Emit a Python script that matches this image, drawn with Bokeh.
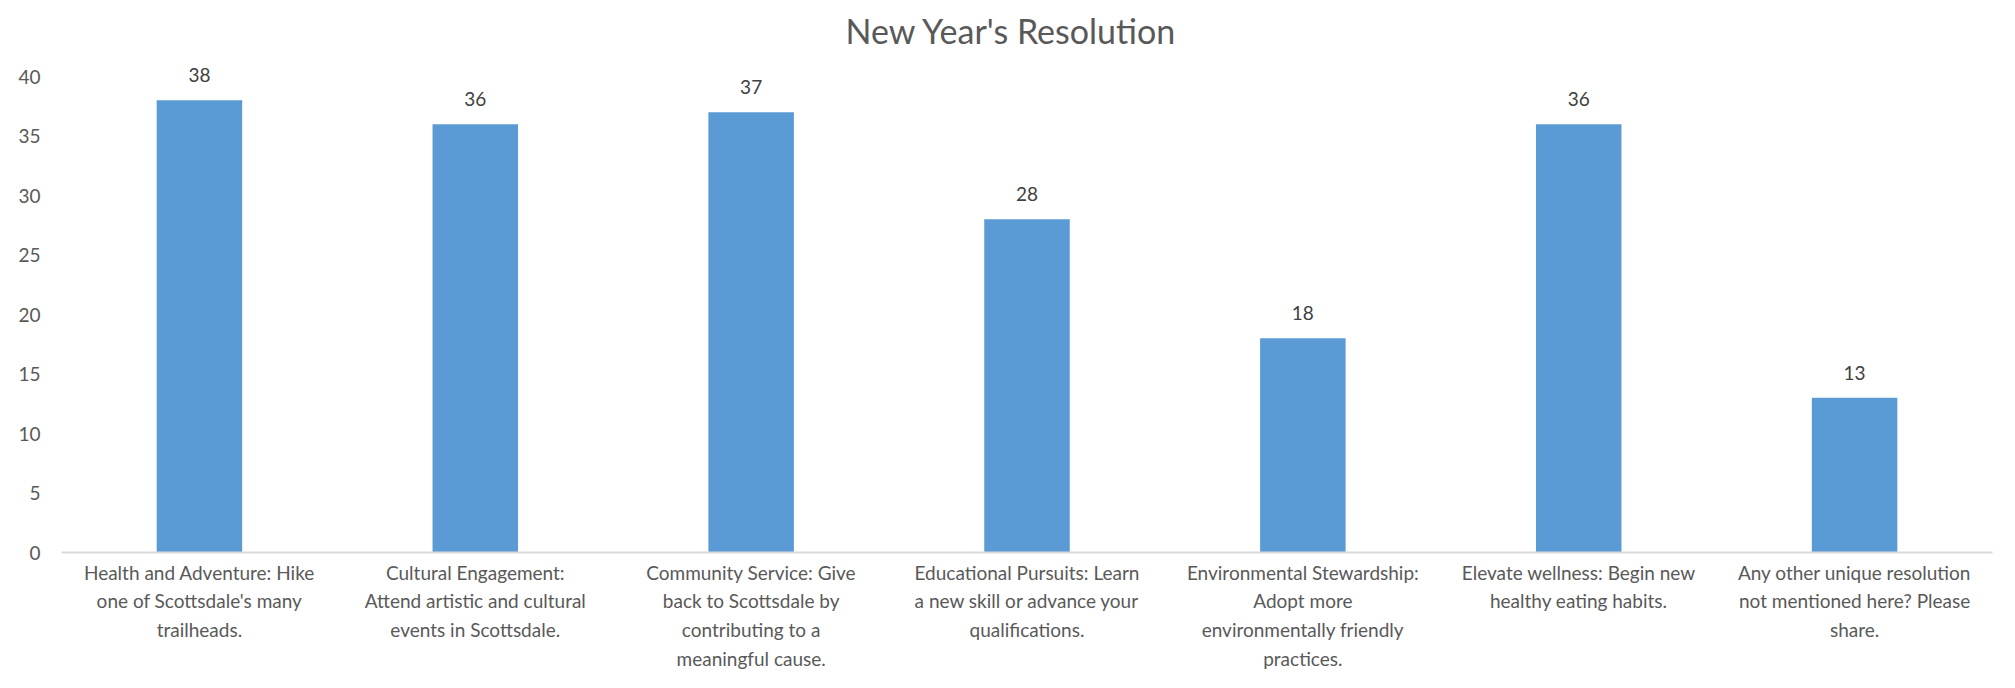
from bokeh.plotting import figure
from bokeh.models import ColumnDataSource, Range1d, FixedTicker, LabelSet
from bokeh.core.properties import value
from bokeh.embed import file_html
from bokeh.resources import INLINE

categories = [
    "Health and Adventure: Hike\none of Scottsdale's many\ntrailheads.",
    "Cultural Engagement:\nAttend artistic and cultural\nevents in Scottsdale.",
    "Community Service: Give\nback to Scottsdale by\ncontributing to a\nmeaningful cause.",
    "Educational Pursuits: Learn\na new skill or advance your\nqualifications.",
    "Environmental Stewardship:\nAdopt more\nenvironmentally friendly\npractices.",
    "Elevate wellness: Begin new\nhealthy eating habits.",
    "Any other unique resolution\nnot mentioned here? Please\nshare.",
]
values = [38, 36, 37, 28, 18, 36, 13]
y_ticks = [0, 5, 10, 15, 20, 25, 30, 35, 40]

FONT = "Lato"
TXT = "#595959"

source = ColumnDataSource(dict(cat=categories, val=values, lbl=[str(v) for v in values]))

p = figure(
    x_range=categories,
    y_range=Range1d(0, 41.6),
    width=1999,
    height=672,
    output_backend="svg",
    toolbar_location=None,
    title="New Year's Resolution",
    min_border_left=61,
    min_border_right=7,
    min_border_bottom=120,
    min_border_top=48,
)
p.vbar(x="cat", top="val", width=0.31, source=source, color="#5B9BD5", line_color=None)

labels = LabelSet(x="cat", y="val", text="lbl", source=source, text_align="center",
                  text_baseline="middle", y_offset=25, text_font=value(FONT),
                  text_font_size="19px", text_color="#404040")
p.add_layout(labels)

p.title.align = "left"
p.title.offset = 784
p.title.text_font = FONT
p.title.text_font_size = "34px"
p.title.text_font_style = "normal"
p.title.text_color = TXT
p.title.standoff = 14

p.xgrid.grid_line_color = None
p.ygrid.grid_line_color = None
p.outline_line_color = None

p.yaxis.ticker = FixedTicker(ticks=y_ticks)
p.yaxis.axis_line_color = None
p.yaxis.major_tick_line_color = None
p.yaxis.minor_tick_line_color = None
p.yaxis.major_tick_out = 0
p.yaxis.major_label_text_font = FONT
p.yaxis.major_label_text_font_size = "19px"
p.yaxis.major_label_text_color = TXT
p.yaxis.major_label_standoff = 21

p.xaxis.axis_line_color = "#D9D9D9"
p.xaxis.axis_line_width = 2
p.xaxis.major_tick_line_color = None
p.xaxis.minor_tick_line_color = None
p.xaxis.major_tick_out = 0
p.xaxis.major_tick_in = 0
p.xaxis.major_label_text_font = FONT
p.xaxis.major_label_text_font_size = "19px"
p.xaxis.major_label_text_color = TXT
p.xaxis.major_label_text_line_height = 1.25
p.xaxis.major_label_standoff = 8
p.x_range.range_padding = 0

open("out.html", "w").write(file_html(p, INLINE))
